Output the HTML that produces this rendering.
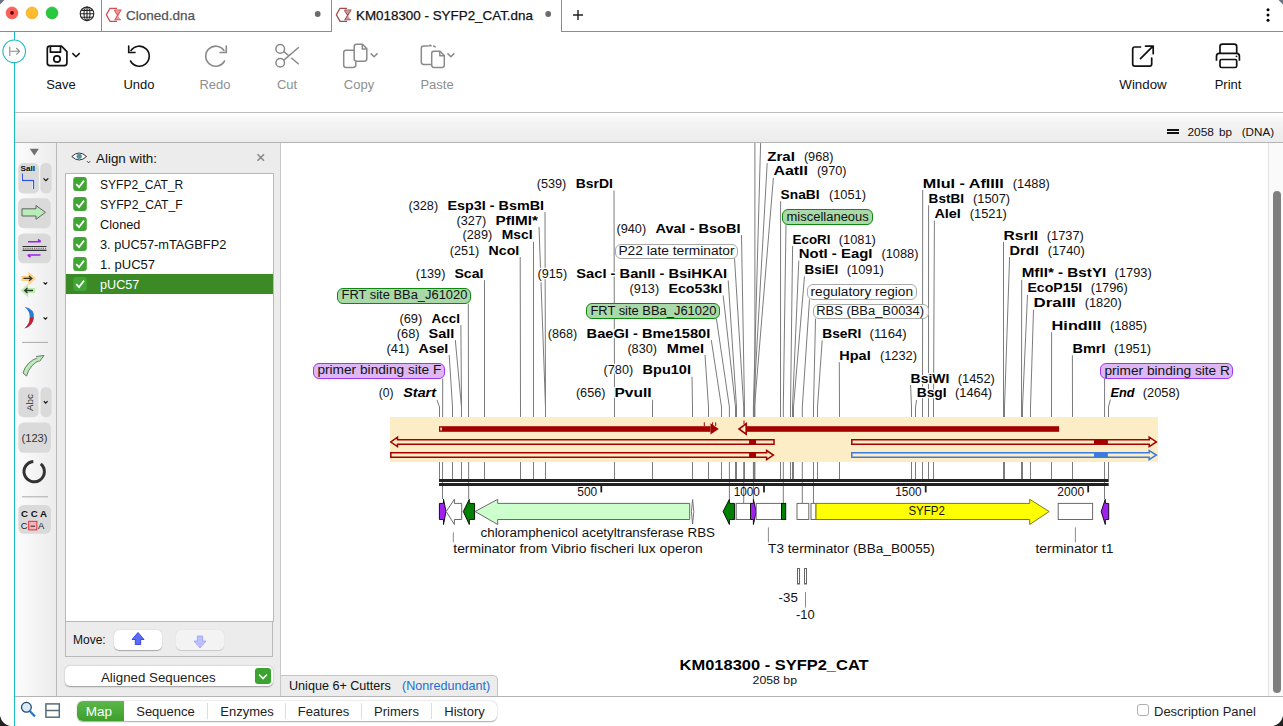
<!DOCTYPE html>
<html><head><meta charset="utf-8">
<style>
html,body{margin:0;padding:0}
body{width:1283px;height:726px;overflow:hidden;position:relative;background:#fff;font-family:"Liberation Sans",sans-serif;color:#000}
.a{position:absolute}
.tb{position:absolute;font-size:13px;text-align:center;white-space:nowrap;color:#111}
.gray{color:#8e8e8e}
.lr{position:absolute;left:100px;font-size:12px;white-space:nowrap;color:#111}
.tab{position:absolute;top:701.8px;height:20px;font-size:13px;line-height:20px;text-align:center;color:#222}
svg text{font-family:"Liberation Sans",sans-serif}
</style></head>
<body>
<!-- tab bar -->
<div class="a" style="left:101px;top:0;width:1px;height:31px;background:#1fb9c6"></div>
<div class="a" style="left:331px;top:0;width:1px;height:31px;background:#1fb9c6"></div>
<div class="a" style="left:561px;top:0;width:1px;height:31px;background:#1fb9c6"></div>
<div class="a" style="left:0;top:31px;width:332px;height:1px;background:#1fb9c6"></div>
<div class="a" style="left:561px;top:31px;width:722px;height:1px;background:#1fb9c6"></div>
<div class="a" style="left:14px;top:31px;width:1px;height:695px;background:#1fb9c6"></div>

<div class="a" style="left:126px;top:8px;font-size:13.5px;color:#555;white-space:nowrap;-webkit-text-stroke:0.25px #555">Cloned.dna</div>
<div class="a" style="left:356px;top:8px;font-size:13.4px;color:#111;white-space:nowrap;-webkit-text-stroke:0.25px #111">KM018300 - SYFP2_CAT.dna</div>

<!-- toolbar -->
<div class="a" style="left:15px;top:112px;width:1268px;height:1px;background:#bdbdbd"></div>
<div class="tb" style="left:41px;top:77px;width:40px">Save</div>
<div class="tb" style="left:119px;top:77px;width:40px">Undo</div>
<div class="tb gray" style="left:195px;top:77px;width:40px">Redo</div>
<div class="tb gray" style="left:267px;top:77px;width:40px">Cut</div>
<div class="tb gray" style="left:339px;top:77px;width:40px">Copy</div>
<div class="tb gray" style="left:417px;top:77px;width:40px">Paste</div>
<div class="tb" style="left:1118px;top:77px;width:50px;font-size:13.3px">Window</div>
<div class="tb" style="left:1208px;top:77px;width:40px">Print</div>

<!-- header bar -->
<div class="a" style="left:15px;top:113px;width:1268px;height:29px;background:linear-gradient(#fff 0,#f4f4f4 9px,#ececec 100%)"></div>
<div class="a" style="left:15px;top:142px;width:1268px;height:1px;background:#b4b4b4"></div>
<div class="a" style="left:1167px;top:129px;width:12px;height:2px;background:#111"></div>
<div class="a" style="left:1167px;top:132px;width:12px;height:2px;background:#111"></div>

<!-- left toolbar -->
<div class="a" style="left:15px;top:143px;width:41px;height:553px;background:linear-gradient(90deg,#fcfcfc,#ececec)"></div>
<div class="a" style="left:56px;top:143px;width:1px;height:553px;background:#b9b9b9"></div>
<!-- panel -->
<div class="a" style="left:57px;top:143px;width:224px;height:553px;background:#ececec"></div>
<div class="a" style="left:280px;top:143px;width:1px;height:553px;background:#c8c8c8"></div>
<div class="a" style="left:96px;top:151px;font-size:13.4px;color:#111;white-space:nowrap">Align with:</div>
<div class="a" style="left:65px;top:173px;width:207px;height:447px;background:#fff;border:1px solid #b9b9b9"></div>
<div class="a" style="left:66px;top:274px;width:207px;height:20px;background:#3b8a26"></div>
<!-- move area -->
<div class="a" style="left:65px;top:621px;width:208px;height:36px;border-top:1px solid #b9b9b9;border-bottom:1px solid #b9b9b9;border-left:1px solid #b9b9b9;border-right:1px solid #b9b9b9;box-sizing:border-box;background:#ececec"></div>
<div class="a" style="left:73px;top:633px;font-size:12px;color:#111">Move:</div>
<div class="a" style="left:114px;top:630px;width:48px;height:20px;background:#fff;border-radius:5px;box-shadow:0 0.5px 1px rgba(0,0,0,0.3)"></div>
<div class="a" style="left:176px;top:630px;width:48px;height:20px;background:#f3f3f3;border-radius:5px;box-shadow:0 0.5px 1px rgba(0,0,0,0.15)"></div>
<!-- aligned seq popup -->
<div class="a" style="left:65px;top:666px;width:208px;height:20px;background:#fff;border-radius:5px;box-shadow:0 0.5px 1.5px rgba(0,0,0,0.35)"></div>
<div class="a" style="left:101px;top:670px;font-size:13.3px;color:#222;white-space:nowrap">Aligned Sequences</div>
<div class="a" style="left:255px;top:668px;width:16px;height:16px;border-radius:3px;background:#3aa42f"></div>

<!-- map area -->
<div class="a" style="left:281px;top:143px;width:987px;height:553px;background:#fff"></div>
<div class="a" style="left:1268px;top:143px;width:15px;height:553px;background:#fafafa;border-left:1px solid #e2e2e2;box-sizing:border-box"></div>
<div class="a" style="left:1273px;top:191px;width:8px;height:502px;border-radius:4px;background:#7f7f7f"></div>

<!-- unique cutters tab -->
<div class="a" style="left:281px;top:675px;width:217px;height:21px;background:#ececec;border:1px solid #c4c4c4;border-bottom:none;border-left:none;border-top-right-radius:5px;box-sizing:border-box"></div>
<div class="a" style="left:289px;top:679px;font-size:12.6px;color:#111;white-space:nowrap">Unique 6+ Cutters</div>
<div class="a" style="left:402px;top:679px;font-size:12.6px;color:#1b6fd1;white-space:nowrap">(Nonredundant)</div>

<!-- bottom bar -->
<div class="a" style="left:15px;top:696px;width:1268px;height:1px;background:#b4b4b4"></div>
<div class="a" style="left:77px;top:701px;width:420px;height:20px;background:#fff;border-radius:6px;box-shadow:0 0.5px 1.5px rgba(0,0,0,0.35)"></div>
<div class="a" style="left:77px;top:701px;width:47px;height:20px;background:linear-gradient(#5bb84a,#3d9e2c);border-radius:6px 0 0 6px"></div>
<div class="tab" style="left:75.5px;width:47px;color:#fff;font-size:13.5px">Map</div>
<div class="tab" style="left:124px;width:83px">Sequence</div>
<div class="a" style="left:207px;top:703px;width:1px;height:16px;background:#ddd"></div>
<div class="tab" style="left:208px;width:78px">Enzymes</div>
<div class="a" style="left:285px;top:703px;width:1px;height:16px;background:#ddd"></div>
<div class="tab" style="left:286px;width:75px">Features</div>
<div class="a" style="left:361px;top:703px;width:1px;height:16px;background:#ddd"></div>
<div class="tab" style="left:362px;width:69px">Primers</div>
<div class="a" style="left:431px;top:703px;width:1px;height:16px;background:#ddd"></div>
<div class="tab" style="left:432px;width:65px">History</div>
<div class="a" style="left:1137px;top:704px;width:12px;height:12px;border:1px solid #b0b0b0;border-radius:3px;box-sizing:border-box;background:#fff"></div>
<div class="a" style="left:1154px;top:704px;font-size:13px;color:#222;white-space:nowrap">Description Panel</div>

<svg class="a" style="left:0;top:0" width="1283" height="726" viewBox="0 0 1283 726">
<!--ICONS-->
<text x="100.0" y="188.9" textLength="83.3" lengthAdjust="spacingAndGlyphs" font-size="12.2" font-weight="normal" font-style="normal" fill="#111" >SYFP2_CAT_R</text>
<text x="100.0" y="208.9" textLength="82.7" lengthAdjust="spacingAndGlyphs" font-size="12.2" font-weight="normal" font-style="normal" fill="#111" >SYFP2_CAT_F</text>
<text x="100.0" y="228.9" textLength="40.4" lengthAdjust="spacingAndGlyphs" font-size="12.2" font-weight="normal" font-style="normal" fill="#111" >Cloned</text>
<text x="100.0" y="248.8" textLength="126.3" lengthAdjust="spacingAndGlyphs" font-size="12.2" font-weight="normal" font-style="normal" fill="#111" >3. pUC57-mTAGBFP2</text>
<text x="100.0" y="268.8" textLength="55.1" lengthAdjust="spacingAndGlyphs" font-size="12.2" font-weight="normal" font-style="normal" fill="#111" >1. pUC57</text>
<text x="100.0" y="288.7" textLength="39.3" lengthAdjust="spacingAndGlyphs" font-size="12.2" font-weight="normal" font-style="normal" fill="#fff" >pUC57</text>
<text x="1187.5" y="135.8" textLength="26.5" lengthAdjust="spacingAndGlyphs" font-size="11.8" font-weight="normal" font-style="normal" fill="#111" >2058</text>
<text x="1218.9" y="135.8" textLength="13.0" lengthAdjust="spacingAndGlyphs" font-size="11.8" font-weight="normal" font-style="normal" fill="#111" >bp</text>
<text x="1241.7" y="135.8" textLength="32.4" lengthAdjust="spacingAndGlyphs" font-size="11.8" font-weight="normal" font-style="normal" fill="#111" >(DNA)</text>
<!-- window corners -->
<path d="M0 0H4.5L0 4.5Z" fill="#6a7480"/>
<path d="M1283 0H1278.5L1283 4.5Z" fill="#6a7480"/>
<path d="M0 726V716Q2 724 10 726Z" fill="#222"/>
<path d="M1283 726V716Q1281 724 1273 726Z" fill="#222"/>
<!-- traffic lights -->
<circle cx="12" cy="12.9" r="6" fill="#ff5f57" stroke="#e0443e" stroke-width="0.5"/>
<circle cx="12" cy="12.9" r="1.8" fill="#4d0000"/>
<circle cx="32" cy="12.9" r="6" fill="#febc2e" stroke="#dea123" stroke-width="0.5"/>
<circle cx="52" cy="12.9" r="6" fill="#28c840" stroke="#1aab29" stroke-width="0.5"/>
<!-- globe -->
<g fill="none" stroke="#222" stroke-width="1.1">
<circle cx="87" cy="13.8" r="6.8"/>
<ellipse cx="87" cy="13.8" rx="3" ry="6.8"/>
<path d="M87 7V20.6 M80.2 13.8H93.8 M81.2 10.4H92.8 M81.2 17.2H92.8"/>
</g>
<!-- tab icons -->
<g fill="none" stroke="#d9474a" stroke-width="1.3">
<path d="M117 8.3H110L106.4 14.8L110 21.3H117"/>
<path d="M114.5 10.2H120.7L115.2 19.7H120.8 M114.5 10.2L117.5 14.8" />
</g>
<path d="M114.8 10.5H120.5L117.6 14.6Z M115.4 19.4H120.5L117.9 15.6Z" fill="#e99a9b"/>
<g fill="none" stroke="#9e4a48" stroke-width="1.3">
<path d="M347 8.3H340L336.4 14.8L340 21.3H347"/>
<path d="M344.5 10.2H350.7L345.2 19.7H350.8 M344.5 10.2L347.5 14.8" />
</g>
<path d="M344.8 10.5H350.5L347.6 14.6Z M345.4 19.4H350.5L347.9 15.6Z" fill="#c99a98"/>
<circle cx="317.7" cy="14" r="2.9" fill="#6b6b6b"/>
<circle cx="548.2" cy="14" r="2.9" fill="#6b6b6b"/>
<path d="M578 10V20 M573 15H583" stroke="#222" stroke-width="1.4"/>
<circle cx="1268" cy="9.7" r="1.5" fill="#000"/>
<circle cx="1268" cy="15" r="1.5" fill="#000"/>
<circle cx="1268" cy="20.3" r="1.5" fill="#000"/>
<!-- sidebar toggle -->
<circle cx="14.2" cy="51.3" r="11.3" fill="#fff" stroke="#1fb9c6" stroke-width="1.1"/>
<path d="M9.8 46.5V56 M10.5 51.3H19.5 M16.2 48L19.5 51.3L16.2 54.6" fill="none" stroke="#8a8a8a" stroke-width="1.1"/>
<!-- save -->
<g fill="none" stroke="#111" stroke-width="1.7" stroke-linejoin="round">
<path d="M49.8 46.2H61.5L66.9 51.6V63Q66.9 65.6 64.3 65.6H49.9Q47.3 65.6 47.3 63V48.8Q47.3 46.2 49.8 46.2Z"/>
<path d="M50.4 46.4V52.2H60.5V46.4"/>
<circle cx="57" cy="59" r="3.2"/>
<path d="M72.4 53.1L76 56.7L79.7 53.1" stroke-width="1.5"/>
</g>
<!-- undo -->
<g fill="none" stroke="#111" stroke-width="1.6" stroke-linecap="round">
<path d="M131 50.5A10 10 0 1 1 130.5 61"/>
<path d="M128.7 46V52.5H135"/>
</g>
<!-- redo -->
<g fill="none" stroke="#8a8a8a" stroke-width="1.6" stroke-linecap="round">
<path d="M224 50.5A10 10 0 1 0 224.5 61"/>
<path d="M226.3 46V52.5H220"/>
</g>
<!-- scissors -->
<g fill="none" stroke="#8a8a8a" stroke-width="1.5">
<circle cx="280.2" cy="48.9" r="4.3"/>
<circle cx="280.2" cy="62.8" r="4.3"/>
<path d="M283.6 60.4L298.8 47.2 M283.8 51.6L288.8 55.8 M291.2 57.8L298.8 64.3"/>
</g>
<!-- copy -->
<g fill="none" stroke="#8a8a8a" stroke-width="1.5" stroke-linejoin="round">
<path d="M354 50.2H346Q343.7 50.2 343.7 52.5V65Q343.7 67.4 346 67.4H353Q355.8 67.4 355.8 65V61.5"/>
<path d="M356.5 44.3H362.5L366.8 48.6V58.8Q366.8 61.2 364.4 61.2H356.5Q354.2 61.2 354.2 58.8V46.6Q354.2 44.3 356.5 44.3Z"/>
<path d="M362.3 44.5V48.9H366.6"/>
<path d="M370.7 53.4L374.1 56.8L377.5 53.4"/>
</g>
<!-- paste -->
<g fill="none" stroke="#8a8a8a" stroke-width="1.5" stroke-linejoin="round">
<path d="M428 46H423.6Q421.3 46 421.3 48.3V62Q421.3 64.4 423.6 64.4H431"/>
<path d="M428.5 46.5Q430 44 431.5 46.3 M433 46Q435 46 435.5 47.5"/>
<path d="M433.5 51.2H440L444.3 55.5V65Q444.3 67.4 442 67.4H434Q431.7 67.4 431.7 65V53.5Q431.7 51.2 433.5 51.2Z"/>
<path d="M439.8 51.4V55.8H444.1"/>
<path d="M447.5 53.4L450.9 56.8L454.3 53.4"/>
</g>
<!-- window -->
<g fill="none" stroke="#111" stroke-width="1.7" stroke-linecap="round" stroke-linejoin="round">
<path d="M1140.5 47H1134.8Q1132.7 47 1132.7 49.1V64Q1132.7 66.1 1134.8 66.1H1149.6Q1151.7 66.1 1151.7 64V58"/>
<path d="M1140.5 58.6L1153 46.1 M1145.5 46.1H1153.2V53.7"/>
</g>
<!-- print -->
<g fill="none" stroke="#111" stroke-width="1.7" stroke-linejoin="round">
<path d="M1220 53.2V46.6Q1220 44.2 1222.4 44.2H1234.3Q1236.7 44.2 1236.7 46.6V53.2"/>
<path d="M1216.5 60.7V56.2Q1216.5 53.4 1219.3 53.4H1236.6Q1239.4 53.4 1239.4 56.2V60.7"/>
<rect x="1220" y="59.5" width="16.7" height="8" rx="1.6"/>
</g>
<circle cx="1236.5" cy="56.3" r="0.9" fill="#111"/>
<!-- left toolbar -->
<path d="M29.8 148.8H38.9L34.35 155.4Z" fill="#707070"/>
<rect x="18.3" y="163" width="20.6" height="30.4" rx="5" fill="#dadada"/>
<rect x="40.3" y="163" width="11.3" height="30.4" rx="5" fill="#dadada"/>
<text x="20.5" y="171" font-size="8" font-weight="bold" fill="#111" textLength="14.5" lengthAdjust="spacingAndGlyphs">SalI</text>
<path d="M22.5 173.6V180.5H33.6V189" fill="none" stroke="#fff" stroke-width="2.6"/>
<path d="M22.5 173.6V180.5H33.6V189" fill="none" stroke="#2d55d8" stroke-width="1.3"/>
<path d="M43.5 178.3L45.9 180.7L48.3 178.3" fill="none" stroke="#111" stroke-width="1.2"/>
<rect x="18.1" y="198.3" width="32.7" height="29.9" rx="5.5" fill="#dadada"/>
<path d="M22 208.8H36V205.5L45.4 212.4L36 219.3V216H22Z" fill="#b8ecb8" stroke="#555" stroke-width="0.9"/>
<rect x="18.1" y="233.4" width="32.7" height="29.9" rx="5.5" fill="#dadada"/>
<path d="M22.5 246.5H46.5 M22.5 250.4H46.5" stroke="#333" stroke-width="1.1"/>
<path d="M23 248.45H46" stroke="#777" stroke-width="1.4" stroke-dasharray="1.2 1"/>
<path d="M28 241.7H40.5 M38 239.5L40.8 241.7 M28 255H40.5 M30.5 257.2L27.7 255" fill="none" stroke="#a020f0" stroke-width="1.6"/>
<!-- orange / green arrows -->
<path d="M22 276.5H29V273L35 278.5L29 284V280.5H22Z" fill="#ffcf80" stroke="#ffcf80" stroke-width="1.2"/>
<path d="M23.5 278.4H31.5 M29 276L31.8 278.4L29 280.8" fill="none" stroke="#333" stroke-width="1.3"/>
<path d="M34.5 288.5H27.5V285L21.5 290.5L27.5 296V292.5H34.5Z" fill="#b8f0a8" stroke="#b8f0a8" stroke-width="1.2"/>
<path d="M33 290.5H25 M27.5 288.1L24.7 290.5L27.5 292.9" fill="none" stroke="#333" stroke-width="1.3"/>
<path d="M43.6 282.3L45.4 284.1L47.2 282.3" fill="none" stroke="#111" stroke-width="1.2"/>
<path d="M24.5 306.7Q35 309 33.8 317.5Q33 326 24.5 328.4Q30 324 29.8 317.5Q30 311 24.5 306.7Z" fill="#2e7bd0"/>
<path d="M33.8 317.5Q33 326 24.5 328.4Q30 324 29.8 317.5Z" fill="#c8202a"/>
<path d="M43.6 317.3L45.4 319.1L47.2 317.3" fill="none" stroke="#111" stroke-width="1.2"/>
<path d="M22 342.4H48" stroke="#aaa" stroke-width="1"/>
<!-- primer arrow -->
<path d="M23 373Q26 362 38 357.5L40.5 360Q30 364 26.5 376Z" fill="#b8ecb8" stroke="#555" stroke-width="0.8"/>
<path d="M36 356.5L44 355.5L39.5 361.5" fill="#b8ecb8" stroke="#555" stroke-width="0.8"/>
<rect x="18.3" y="387.2" width="20.3" height="30.1" rx="5" fill="#dadada"/>
<rect x="40.6" y="387.2" width="11" height="30.1" rx="5" fill="#dadada"/>
<text transform="translate(32.5 411) rotate(-90)" font-size="9.5" fill="#333" textLength="17" lengthAdjust="spacingAndGlyphs">Abc</text>
<path d="M43.8 401.2L45.7 403.1L47.6 401.2" fill="none" stroke="#111" stroke-width="1.2"/>
<rect x="18.3" y="422.5" width="32.7" height="30.3" rx="5.5" fill="#dadada"/>
<text x="21.5" y="441.5" font-size="10" fill="#333" textLength="26" lengthAdjust="spacingAndGlyphs">(123)</text>
<path d="M40.76 463.79A10.2 10.2 0 1 1 33.31 461.44" fill="none" stroke="#333" stroke-width="3"/>
<path d="M22 496.8H48" stroke="#aaa" stroke-width="1"/>
<rect x="18.3" y="504.9" width="32.7" height="28.9" rx="5.5" fill="#dadada"/>
<text x="21" y="517" font-size="9.5" font-weight="bold" fill="#111" textLength="26" lengthAdjust="spacingAndGlyphs">C C A</text>
<rect x="28.7" y="521.3" width="8.2" height="8.6" fill="#f7b3b8" stroke="#e0202a" stroke-width="0.9"/>
<text x="20.8" y="529" font-size="9.5" fill="#222">C</text>
<path d="M30.5 526.2H35" stroke="#222" stroke-width="1"/>
<text x="38" y="529" font-size="9.5" fill="#222">A</text>
<!-- panel icons -->
<path d="M71.8 156.5Q79.2 149.5 86.6 156.5Q79.2 163.5 71.8 156.5Z" fill="#fff" stroke="#333" stroke-width="1"/>
<circle cx="79.2" cy="156.3" r="2.6" fill="#5a8fa0"/>
<path d="M87 161.2L88.6 162.8L90.2 161.2" fill="none" stroke="#333" stroke-width="1"/>
<path d="M257.5 154.3L264 160.8 M264 154.3L257.5 160.8" stroke="#888" stroke-width="1.6"/>
<rect x="73.2" y="177" width="13.6" height="14" rx="3" fill="#40a534"/>
<path d="M76.2 184.2L79 187.2L84 180.6" fill="none" stroke="#fff" stroke-width="1.8"/>
<rect x="73.2" y="197" width="13.6" height="14" rx="3" fill="#40a534"/>
<path d="M76.2 204.2L79 207.2L84 200.6" fill="none" stroke="#fff" stroke-width="1.8"/>
<rect x="73.2" y="217" width="13.6" height="14" rx="3" fill="#40a534"/>
<path d="M76.2 224.2L79 227.2L84 220.6" fill="none" stroke="#fff" stroke-width="1.8"/>
<rect x="73.2" y="237" width="13.6" height="14" rx="3" fill="#40a534"/>
<path d="M76.2 244.2L79 247.2L84 240.6" fill="none" stroke="#fff" stroke-width="1.8"/>
<rect x="73.2" y="257" width="13.6" height="14" rx="3" fill="#40a534"/>
<path d="M76.2 264.2L79 267.2L84 260.6" fill="none" stroke="#fff" stroke-width="1.8"/>
<rect x="73.2" y="277" width="13.6" height="14" rx="3" fill="#40a534"/>
<path d="M76.2 284.2L79 287.2L84 280.6" fill="none" stroke="#fff" stroke-width="1.8"/>
<path d="M138 632.5L132 639.5H135.3V644.5H140.7V639.5H144Z" fill="#5b6cf6" stroke="#2030e0" stroke-width="0.8"/>
<path d="M200 648L194 641H197.3V636H202.7V641H206Z" fill="#b8bffa" stroke="#9aa2f6" stroke-width="0.8"/>
<path d="M259 674.5L263 678.5L267 674.5" fill="none" stroke="#fff" stroke-width="1.6"/>
<circle cx="26.4" cy="707.3" r="4.9" fill="#d8ecfb" stroke="#2a4a6a" stroke-width="1.3"/>
<path d="M29.8 711L35 716.5" stroke="#1a78c8" stroke-width="2.2"/>
<rect x="45.9" y="703.9" width="13.4" height="13.3" fill="#fffdf6" stroke="#566c7c" stroke-width="1.5"/>
<path d="M45.9 710.5H59.3" stroke="#566c7c" stroke-width="1.5"/>

<path d="M614.0 190.4L614.5 407.0L614.5 479.0 M545.0 212.0L545.5 407.0L545.5 479.0 M539.0 227.0L545.5 407.0L545.5 479.0 M533.5 241.9L533.5 407.0L533.5 479.0 M520.2 257.0L520.5 407.0L520.5 479.0 M484.5 280.2L484.5 407.0L484.5 479.0 M460.9 325.1L461.5 407.0L461.5 479.0 M455.3 340.1L461.5 407.0L461.5 479.0 M449.2 355.0L452.5 407.0L452.5 479.0 M437.0 399.8L439.5 407.0L439.5 479.0 M741.5 235.1L744.5 407.0L744.5 479.0 M728.2 280.4L736.5 407.0L736.5 479.0 M723.2 295.5L735.5 407.0L735.5 479.0 M711.3 340.1L721.5 407.0L721.5 479.0 M705.0 355.0L708.5 407.0L708.5 479.0 M692.0 376.8L692.5 407.0L692.5 479.0 M652.6 399.8L652.5 407.0L652.5 479.0 M767.2 163.1L753.5 407.0L753.5 479.0 M773.4 177.9L754.5 407.0L754.5 479.0 M780.6 201.2L780.5 407.0L780.5 479.0 M792.6 246.0L790.5 407.0L790.5 479.0 M798.8 260.7L792.5 407.0L792.5 479.0 M804.5 276.3L793.5 407.0L793.5 479.0 M822.2 340.4L817.5 407.0L817.5 479.0 M839.3 362.2L839.5 407.0L839.5 479.0 M910.6 385.0L911.5 407.0L911.5 479.0 M916.7 399.9L915.5 407.0L915.5 479.0 M922.7 190.0L922.5 407.0L922.5 479.0 M928.6 205.3L928.5 407.0L928.5 479.0 M934.4 220.5L933.5 407.0L933.5 479.0 M1003.5 242.0L1003.5 407.0L1003.5 479.0 M1009.6 257.0L1004.5 407.0L1004.5 479.0 M1021.7 279.9L1021.5 407.0L1021.5 479.0 M1027.5 294.9L1022.5 407.0L1022.5 479.0 M1033.5 309.8L1030.5 407.0L1030.5 479.0 M1051.6 332.2L1051.5 407.0L1051.5 479.0 M1072.4 355.3L1072.5 407.0L1072.5 479.0 M1110.4 399.5L1108.5 407.0L1108.5 479.0 M754.9 143L754.9 407.0L754.9 479.0 M760.6 143L753.4 407.0L753.4 499 M468.3 303.6L468.7 499 M716.4 318.6L729.4 407.0L729.4 499 M442.7 378.5L442.5 499 M1104.6 379L1104.5 499 M734.5 258.2L743.7 407.0L743.7 503 M786 224.5L783.3 407.0L783.3 503 M809.5 299.4L802.3 407.0L802.3 503 M815.5 318.6L813.5 407.0L813.5 503" fill="none" stroke="#7c7c7c" stroke-width="1"/>
<rect x="337.5" y="288.5" width="133.0" height="15.0" rx="5.5" fill="#a9d9a9" stroke="#0f880f" stroke-width="1"/>
<text x="341.5" y="299.3" textLength="125.9" lengthAdjust="spacingAndGlyphs" font-size="12.5" font-weight="normal" font-style="normal" fill="#111" >FRT site BBa_J61020</text>
<rect x="586.5" y="303.5" width="133.0" height="15.0" rx="5.5" fill="#a9d9a9" stroke="#0f880f" stroke-width="1"/>
<text x="590.4" y="314.5" textLength="126.0" lengthAdjust="spacingAndGlyphs" font-size="12.5" font-weight="normal" font-style="normal" fill="#111" >FRT site BBa_J61020</text>
<rect x="313.5" y="363.5" width="131.0" height="15.0" rx="5.5" fill="#ddb8f5" stroke="#a335ee" stroke-width="1"/>
<text x="317.4" y="374.3" textLength="124.0" lengthAdjust="spacingAndGlyphs" font-size="12.5" font-weight="normal" font-style="normal" fill="#111" >primer binding site F</text>
<rect x="1100.5" y="363.5" width="132.0" height="15.0" rx="5.5" fill="#ddb8f5" stroke="#a335ee" stroke-width="1"/>
<text x="1104.4" y="374.6" textLength="125.5" lengthAdjust="spacingAndGlyphs" font-size="12.5" font-weight="normal" font-style="normal" fill="#111" >primer binding site R</text>
<rect x="615.5" y="244.5" width="122.0" height="14.0" rx="5.5" fill="#ffffff" stroke="#a8a8a8" stroke-width="1"/>
<text x="618.4" y="254.6" textLength="116.2" lengthAdjust="spacingAndGlyphs" font-size="12.5" font-weight="normal" font-style="normal" fill="#111" >P22 late terminator</text>
<rect x="782.5" y="209.5" width="90.0" height="15.0" rx="5.5" fill="#a9d9a9" stroke="#0f880f" stroke-width="1"/>
<text x="786.5" y="220.6" textLength="82.3" lengthAdjust="spacingAndGlyphs" font-size="12.5" font-weight="normal" font-style="normal" fill="#111" >miscellaneous</text>
<rect x="807.5" y="284.5" width="109.0" height="15.0" rx="5.5" fill="#ffffff" stroke="#a8a8a8" stroke-width="1"/>
<text x="810.5" y="295.6" textLength="102.5" lengthAdjust="spacingAndGlyphs" font-size="12.5" font-weight="normal" font-style="normal" fill="#111" >regulatory region</text>
<rect x="813.5" y="304.5" width="115.0" height="14.0" rx="5.5" fill="#ffffff" stroke="#a8a8a8" stroke-width="1"/>
<text x="816.2" y="314.8" textLength="107.9" lengthAdjust="spacingAndGlyphs" font-size="12.5" font-weight="normal" font-style="normal" fill="#111" >RBS (BBa_B0034)</text>
<text x="536.7" y="187.9" textLength="29.6" lengthAdjust="spacingAndGlyphs" font-size="12" font-weight="normal" font-style="normal" fill="#111" stroke="#fff" stroke-width="2.5" paint-order="stroke" stroke-linejoin="round">(539)</text>
<text x="575.8" y="187.9" textLength="37.2" lengthAdjust="spacingAndGlyphs" font-size="12.6" font-weight="bold" font-style="normal" fill="#000" stroke="#fff" stroke-width="2.5" paint-order="stroke" stroke-linejoin="round">BsrDI</text>
<text x="408.5" y="209.5" textLength="29.6" lengthAdjust="spacingAndGlyphs" font-size="12" font-weight="normal" font-style="normal" fill="#111" stroke="#fff" stroke-width="2.5" paint-order="stroke" stroke-linejoin="round">(328)</text>
<text x="447.5" y="209.5" textLength="96.5" lengthAdjust="spacingAndGlyphs" font-size="12.6" font-weight="bold" font-style="normal" fill="#000" stroke="#fff" stroke-width="2.5" paint-order="stroke" stroke-linejoin="round">Esp3I - BsmBI</text>
<text x="456.6" y="224.5" textLength="29.6" lengthAdjust="spacingAndGlyphs" font-size="12" font-weight="normal" font-style="normal" fill="#111" stroke="#fff" stroke-width="2.5" paint-order="stroke" stroke-linejoin="round">(327)</text>
<text x="495.5" y="224.5" textLength="42.5" lengthAdjust="spacingAndGlyphs" font-size="12.6" font-weight="bold" font-style="normal" fill="#000" stroke="#fff" stroke-width="2.5" paint-order="stroke" stroke-linejoin="round">PflMI*</text>
<text x="462.6" y="239.4" textLength="29.6" lengthAdjust="spacingAndGlyphs" font-size="12" font-weight="normal" font-style="normal" fill="#111" stroke="#fff" stroke-width="2.5" paint-order="stroke" stroke-linejoin="round">(289)</text>
<text x="501.7" y="239.4" textLength="30.8" lengthAdjust="spacingAndGlyphs" font-size="12.6" font-weight="bold" font-style="normal" fill="#000" stroke="#fff" stroke-width="2.5" paint-order="stroke" stroke-linejoin="round">MscI</text>
<text x="449.7" y="254.5" textLength="29.6" lengthAdjust="spacingAndGlyphs" font-size="12" font-weight="normal" font-style="normal" fill="#111" stroke="#fff" stroke-width="2.5" paint-order="stroke" stroke-linejoin="round">(251)</text>
<text x="488.6" y="254.5" textLength="30.6" lengthAdjust="spacingAndGlyphs" font-size="12.6" font-weight="bold" font-style="normal" fill="#000" stroke="#fff" stroke-width="2.5" paint-order="stroke" stroke-linejoin="round">NcoI</text>
<text x="415.8" y="277.7" textLength="29.6" lengthAdjust="spacingAndGlyphs" font-size="12" font-weight="normal" font-style="normal" fill="#111" stroke="#fff" stroke-width="2.5" paint-order="stroke" stroke-linejoin="round">(139)</text>
<text x="454.4" y="277.7" textLength="29.1" lengthAdjust="spacingAndGlyphs" font-size="12.6" font-weight="bold" font-style="normal" fill="#000" stroke="#fff" stroke-width="2.5" paint-order="stroke" stroke-linejoin="round">ScaI</text>
<text x="399.4" y="322.6" textLength="22.9" lengthAdjust="spacingAndGlyphs" font-size="12" font-weight="normal" font-style="normal" fill="#111" stroke="#fff" stroke-width="2.5" paint-order="stroke" stroke-linejoin="round">(69)</text>
<text x="431.6" y="322.6" textLength="28.3" lengthAdjust="spacingAndGlyphs" font-size="12.6" font-weight="bold" font-style="normal" fill="#000" stroke="#fff" stroke-width="2.5" paint-order="stroke" stroke-linejoin="round">AccI</text>
<text x="396.7" y="337.6" textLength="22.9" lengthAdjust="spacingAndGlyphs" font-size="12" font-weight="normal" font-style="normal" fill="#111" stroke="#fff" stroke-width="2.5" paint-order="stroke" stroke-linejoin="round">(68)</text>
<text x="428.5" y="337.6" textLength="25.8" lengthAdjust="spacingAndGlyphs" font-size="12.6" font-weight="bold" font-style="normal" fill="#000" stroke="#fff" stroke-width="2.5" paint-order="stroke" stroke-linejoin="round">SalI</text>
<text x="386.5" y="352.5" textLength="22.9" lengthAdjust="spacingAndGlyphs" font-size="12" font-weight="normal" font-style="normal" fill="#111" stroke="#fff" stroke-width="2.5" paint-order="stroke" stroke-linejoin="round">(41)</text>
<text x="418.5" y="352.5" textLength="29.7" lengthAdjust="spacingAndGlyphs" font-size="12.6" font-weight="bold" font-style="normal" fill="#000" stroke="#fff" stroke-width="2.5" paint-order="stroke" stroke-linejoin="round">AseI</text>
<text x="378.8" y="397.3" textLength="14.8" lengthAdjust="spacingAndGlyphs" font-size="12" font-weight="normal" font-style="normal" fill="#111" stroke="#fff" stroke-width="2.5" paint-order="stroke" stroke-linejoin="round">(0)</text>
<text x="403.3" y="397.3" textLength="32.7" lengthAdjust="spacingAndGlyphs" font-size="12.6" font-weight="bold" font-style="italic" fill="#000" stroke="#fff" stroke-width="2.5" paint-order="stroke" stroke-linejoin="round">Start</text>
<text x="616.5" y="232.6" textLength="29.6" lengthAdjust="spacingAndGlyphs" font-size="12" font-weight="normal" font-style="normal" fill="#111" stroke="#fff" stroke-width="2.5" paint-order="stroke" stroke-linejoin="round">(940)</text>
<text x="655.5" y="232.6" textLength="85.0" lengthAdjust="spacingAndGlyphs" font-size="12.6" font-weight="bold" font-style="normal" fill="#000" stroke="#fff" stroke-width="2.5" paint-order="stroke" stroke-linejoin="round">AvaI - BsoBI</text>
<text x="537.5" y="277.9" textLength="29.6" lengthAdjust="spacingAndGlyphs" font-size="12" font-weight="normal" font-style="normal" fill="#111" stroke="#fff" stroke-width="2.5" paint-order="stroke" stroke-linejoin="round">(915)</text>
<text x="576.3" y="277.9" textLength="150.9" lengthAdjust="spacingAndGlyphs" font-size="12.6" font-weight="bold" font-style="normal" fill="#000" stroke="#fff" stroke-width="2.5" paint-order="stroke" stroke-linejoin="round">SacI - BanII - BsiHKAI</text>
<text x="629.5" y="293.0" textLength="29.6" lengthAdjust="spacingAndGlyphs" font-size="12" font-weight="normal" font-style="normal" fill="#111" stroke="#fff" stroke-width="2.5" paint-order="stroke" stroke-linejoin="round">(913)</text>
<text x="668.4" y="293.0" textLength="53.8" lengthAdjust="spacingAndGlyphs" font-size="12.6" font-weight="bold" font-style="normal" fill="#000" stroke="#fff" stroke-width="2.5" paint-order="stroke" stroke-linejoin="round">Eco53kI</text>
<text x="547.7" y="337.6" textLength="29.6" lengthAdjust="spacingAndGlyphs" font-size="12" font-weight="normal" font-style="normal" fill="#111" stroke="#fff" stroke-width="2.5" paint-order="stroke" stroke-linejoin="round">(868)</text>
<text x="586.6" y="337.6" textLength="123.7" lengthAdjust="spacingAndGlyphs" font-size="12.6" font-weight="bold" font-style="normal" fill="#000" stroke="#fff" stroke-width="2.5" paint-order="stroke" stroke-linejoin="round">BaeGI - Bme1580I</text>
<text x="627.4" y="352.5" textLength="29.6" lengthAdjust="spacingAndGlyphs" font-size="12" font-weight="normal" font-style="normal" fill="#111" stroke="#fff" stroke-width="2.5" paint-order="stroke" stroke-linejoin="round">(830)</text>
<text x="666.8" y="352.5" textLength="37.2" lengthAdjust="spacingAndGlyphs" font-size="12.6" font-weight="bold" font-style="normal" fill="#000" stroke="#fff" stroke-width="2.5" paint-order="stroke" stroke-linejoin="round">MmeI</text>
<text x="603.6" y="374.3" textLength="29.6" lengthAdjust="spacingAndGlyphs" font-size="12" font-weight="normal" font-style="normal" fill="#111" stroke="#fff" stroke-width="2.5" paint-order="stroke" stroke-linejoin="round">(780)</text>
<text x="642.6" y="374.3" textLength="48.4" lengthAdjust="spacingAndGlyphs" font-size="12.6" font-weight="bold" font-style="normal" fill="#000" stroke="#fff" stroke-width="2.5" paint-order="stroke" stroke-linejoin="round">Bpu10I</text>
<text x="575.9" y="397.3" textLength="29.6" lengthAdjust="spacingAndGlyphs" font-size="12" font-weight="normal" font-style="normal" fill="#111" stroke="#fff" stroke-width="2.5" paint-order="stroke" stroke-linejoin="round">(656)</text>
<text x="614.5" y="397.3" textLength="37.1" lengthAdjust="spacingAndGlyphs" font-size="12.6" font-weight="bold" font-style="normal" fill="#000" stroke="#fff" stroke-width="2.5" paint-order="stroke" stroke-linejoin="round">PvuII</text>
<text x="767.2" y="160.6" textLength="27.7" lengthAdjust="spacingAndGlyphs" font-size="12.6" font-weight="bold" font-style="normal" fill="#000" stroke="#fff" stroke-width="2.5" paint-order="stroke" stroke-linejoin="round">ZraI</text>
<text x="803.9" y="160.6" textLength="29.6" lengthAdjust="spacingAndGlyphs" font-size="12" font-weight="normal" font-style="normal" fill="#111" stroke="#fff" stroke-width="2.5" paint-order="stroke" stroke-linejoin="round">(968)</text>
<text x="773.4" y="175.4" textLength="34.6" lengthAdjust="spacingAndGlyphs" font-size="12.6" font-weight="bold" font-style="normal" fill="#000" stroke="#fff" stroke-width="2.5" paint-order="stroke" stroke-linejoin="round">AatII</text>
<text x="816.9" y="175.4" textLength="29.6" lengthAdjust="spacingAndGlyphs" font-size="12" font-weight="normal" font-style="normal" fill="#111" stroke="#fff" stroke-width="2.5" paint-order="stroke" stroke-linejoin="round">(970)</text>
<text x="780.6" y="198.7" textLength="39.0" lengthAdjust="spacingAndGlyphs" font-size="12.6" font-weight="bold" font-style="normal" fill="#000" stroke="#fff" stroke-width="2.5" paint-order="stroke" stroke-linejoin="round">SnaBI</text>
<text x="828.9" y="198.7" textLength="37.1" lengthAdjust="spacingAndGlyphs" font-size="12" font-weight="normal" font-style="normal" fill="#111" stroke="#fff" stroke-width="2.5" paint-order="stroke" stroke-linejoin="round">(1051)</text>
<text x="792.6" y="243.5" textLength="37.8" lengthAdjust="spacingAndGlyphs" font-size="12.6" font-weight="bold" font-style="normal" fill="#000" stroke="#fff" stroke-width="2.5" paint-order="stroke" stroke-linejoin="round">EcoRI</text>
<text x="838.8" y="243.5" textLength="37.1" lengthAdjust="spacingAndGlyphs" font-size="12" font-weight="normal" font-style="normal" fill="#111" stroke="#fff" stroke-width="2.5" paint-order="stroke" stroke-linejoin="round">(1081)</text>
<text x="798.8" y="258.2" textLength="73.6" lengthAdjust="spacingAndGlyphs" font-size="12.6" font-weight="bold" font-style="normal" fill="#000" stroke="#fff" stroke-width="2.5" paint-order="stroke" stroke-linejoin="round">NotI - EagI</text>
<text x="881.4" y="258.2" textLength="37.1" lengthAdjust="spacingAndGlyphs" font-size="12" font-weight="normal" font-style="normal" fill="#111" stroke="#fff" stroke-width="2.5" paint-order="stroke" stroke-linejoin="round">(1088)</text>
<text x="804.5" y="273.8" textLength="33.7" lengthAdjust="spacingAndGlyphs" font-size="12.6" font-weight="bold" font-style="normal" fill="#000" stroke="#fff" stroke-width="2.5" paint-order="stroke" stroke-linejoin="round">BsiEI</text>
<text x="846.8" y="273.8" textLength="37.1" lengthAdjust="spacingAndGlyphs" font-size="12" font-weight="normal" font-style="normal" fill="#111" stroke="#fff" stroke-width="2.5" paint-order="stroke" stroke-linejoin="round">(1091)</text>
<text x="822.2" y="337.9" textLength="39.1" lengthAdjust="spacingAndGlyphs" font-size="12.6" font-weight="bold" font-style="normal" fill="#000" stroke="#fff" stroke-width="2.5" paint-order="stroke" stroke-linejoin="round">BseRI</text>
<text x="869.6" y="337.9" textLength="37.1" lengthAdjust="spacingAndGlyphs" font-size="12" font-weight="normal" font-style="normal" fill="#111" stroke="#fff" stroke-width="2.5" paint-order="stroke" stroke-linejoin="round">(1164)</text>
<text x="839.3" y="359.7" textLength="31.4" lengthAdjust="spacingAndGlyphs" font-size="12.6" font-weight="bold" font-style="normal" fill="#000" stroke="#fff" stroke-width="2.5" paint-order="stroke" stroke-linejoin="round">HpaI</text>
<text x="879.9" y="359.7" textLength="37.1" lengthAdjust="spacingAndGlyphs" font-size="12" font-weight="normal" font-style="normal" fill="#111" stroke="#fff" stroke-width="2.5" paint-order="stroke" stroke-linejoin="round">(1232)</text>
<text x="910.6" y="382.5" textLength="38.8" lengthAdjust="spacingAndGlyphs" font-size="12.6" font-weight="bold" font-style="normal" fill="#000" stroke="#fff" stroke-width="2.5" paint-order="stroke" stroke-linejoin="round">BsiWI</text>
<text x="957.8" y="382.5" textLength="37.1" lengthAdjust="spacingAndGlyphs" font-size="12" font-weight="normal" font-style="normal" fill="#111" stroke="#fff" stroke-width="2.5" paint-order="stroke" stroke-linejoin="round">(1452)</text>
<text x="916.7" y="397.4" textLength="29.9" lengthAdjust="spacingAndGlyphs" font-size="12.6" font-weight="bold" font-style="normal" fill="#000" stroke="#fff" stroke-width="2.5" paint-order="stroke" stroke-linejoin="round">BsgI</text>
<text x="955.0" y="397.4" textLength="37.1" lengthAdjust="spacingAndGlyphs" font-size="12" font-weight="normal" font-style="normal" fill="#111" stroke="#fff" stroke-width="2.5" paint-order="stroke" stroke-linejoin="round">(1464)</text>
<text x="922.7" y="187.5" textLength="81.1" lengthAdjust="spacingAndGlyphs" font-size="12.6" font-weight="bold" font-style="normal" fill="#000" stroke="#fff" stroke-width="2.5" paint-order="stroke" stroke-linejoin="round">MluI - AflIII</text>
<text x="1012.8" y="187.5" textLength="37.1" lengthAdjust="spacingAndGlyphs" font-size="12" font-weight="normal" font-style="normal" fill="#111" stroke="#fff" stroke-width="2.5" paint-order="stroke" stroke-linejoin="round">(1488)</text>
<text x="928.6" y="202.8" textLength="35.5" lengthAdjust="spacingAndGlyphs" font-size="12.6" font-weight="bold" font-style="normal" fill="#000" stroke="#fff" stroke-width="2.5" paint-order="stroke" stroke-linejoin="round">BstBI</text>
<text x="973.0" y="202.8" textLength="37.1" lengthAdjust="spacingAndGlyphs" font-size="12" font-weight="normal" font-style="normal" fill="#111" stroke="#fff" stroke-width="2.5" paint-order="stroke" stroke-linejoin="round">(1507)</text>
<text x="934.4" y="218.0" textLength="26.5" lengthAdjust="spacingAndGlyphs" font-size="12.6" font-weight="bold" font-style="normal" fill="#000" stroke="#fff" stroke-width="2.5" paint-order="stroke" stroke-linejoin="round">AleI</text>
<text x="969.8" y="218.0" textLength="37.1" lengthAdjust="spacingAndGlyphs" font-size="12" font-weight="normal" font-style="normal" fill="#111" stroke="#fff" stroke-width="2.5" paint-order="stroke" stroke-linejoin="round">(1521)</text>
<text x="1003.5" y="239.5" textLength="34.7" lengthAdjust="spacingAndGlyphs" font-size="12.6" font-weight="bold" font-style="normal" fill="#000" stroke="#fff" stroke-width="2.5" paint-order="stroke" stroke-linejoin="round">RsrII</text>
<text x="1046.8" y="239.5" textLength="37.1" lengthAdjust="spacingAndGlyphs" font-size="12" font-weight="normal" font-style="normal" fill="#111" stroke="#fff" stroke-width="2.5" paint-order="stroke" stroke-linejoin="round">(1737)</text>
<text x="1009.6" y="254.5" textLength="29.1" lengthAdjust="spacingAndGlyphs" font-size="12.6" font-weight="bold" font-style="normal" fill="#000" stroke="#fff" stroke-width="2.5" paint-order="stroke" stroke-linejoin="round">DrdI</text>
<text x="1047.7" y="254.5" textLength="37.1" lengthAdjust="spacingAndGlyphs" font-size="12" font-weight="normal" font-style="normal" fill="#111" stroke="#fff" stroke-width="2.5" paint-order="stroke" stroke-linejoin="round">(1740)</text>
<text x="1021.7" y="277.4" textLength="84.6" lengthAdjust="spacingAndGlyphs" font-size="12.6" font-weight="bold" font-style="normal" fill="#000" stroke="#fff" stroke-width="2.5" paint-order="stroke" stroke-linejoin="round">MflI* - BstYI</text>
<text x="1114.6" y="277.4" textLength="37.1" lengthAdjust="spacingAndGlyphs" font-size="12" font-weight="normal" font-style="normal" fill="#111" stroke="#fff" stroke-width="2.5" paint-order="stroke" stroke-linejoin="round">(1793)</text>
<text x="1027.5" y="292.4" textLength="54.7" lengthAdjust="spacingAndGlyphs" font-size="12.6" font-weight="bold" font-style="normal" fill="#000" stroke="#fff" stroke-width="2.5" paint-order="stroke" stroke-linejoin="round">EcoP15I</text>
<text x="1090.7" y="292.4" textLength="37.1" lengthAdjust="spacingAndGlyphs" font-size="12" font-weight="normal" font-style="normal" fill="#111" stroke="#fff" stroke-width="2.5" paint-order="stroke" stroke-linejoin="round">(1796)</text>
<text x="1033.5" y="307.3" textLength="42.3" lengthAdjust="spacingAndGlyphs" font-size="12.6" font-weight="bold" font-style="normal" fill="#000" stroke="#fff" stroke-width="2.5" paint-order="stroke" stroke-linejoin="round">DraIII</text>
<text x="1084.7" y="307.3" textLength="37.1" lengthAdjust="spacingAndGlyphs" font-size="12" font-weight="normal" font-style="normal" fill="#111" stroke="#fff" stroke-width="2.5" paint-order="stroke" stroke-linejoin="round">(1820)</text>
<text x="1051.6" y="329.7" textLength="49.8" lengthAdjust="spacingAndGlyphs" font-size="12.6" font-weight="bold" font-style="normal" fill="#000" stroke="#fff" stroke-width="2.5" paint-order="stroke" stroke-linejoin="round">HindIII</text>
<text x="1109.9" y="329.7" textLength="37.1" lengthAdjust="spacingAndGlyphs" font-size="12" font-weight="normal" font-style="normal" fill="#111" stroke="#fff" stroke-width="2.5" paint-order="stroke" stroke-linejoin="round">(1885)</text>
<text x="1072.4" y="352.8" textLength="33.1" lengthAdjust="spacingAndGlyphs" font-size="12.6" font-weight="bold" font-style="normal" fill="#000" stroke="#fff" stroke-width="2.5" paint-order="stroke" stroke-linejoin="round">BmrI</text>
<text x="1114.0" y="352.8" textLength="37.1" lengthAdjust="spacingAndGlyphs" font-size="12" font-weight="normal" font-style="normal" fill="#111" stroke="#fff" stroke-width="2.5" paint-order="stroke" stroke-linejoin="round">(1951)</text>
<text x="1110.4" y="397.0" textLength="24.1" lengthAdjust="spacingAndGlyphs" font-size="12.6" font-weight="bold" font-style="italic" fill="#000" stroke="#fff" stroke-width="2.5" paint-order="stroke" stroke-linejoin="round">End</text>
<text x="1142.8" y="397.0" textLength="37.1" lengthAdjust="spacingAndGlyphs" font-size="12" font-weight="normal" font-style="normal" fill="#111" stroke="#fff" stroke-width="2.5" paint-order="stroke" stroke-linejoin="round">(2058)</text>
<rect x="390" y="417" width="768" height="45" fill="#fdedc7"/>
<rect x="439" y="426.2" width="271.5" height="5.6" fill="#a30000"/>
<path d="M710.5 423.3L718.8 429L710.5 434.6Z" fill="#a30000"/>
<rect x="440.3" y="427.6" width="1.6" height="2.8" fill="#fdedc7"/>
<path d="M704.3 422.3V426 M712.6 422.3V426 M715.7 422.3V426 M744 420.5V424" stroke="#a30000" stroke-width="1"/>
<rect x="746.2" y="426.2" width="312.9" height="5.6" fill="#a30000"/>
<path d="M746.2 423.6L739 429L746.2 434.2Z" fill="#fdedc7" stroke="#a30000" stroke-width="1.6"/>
<path d="M774 439.7H397.5V437.2L390.8 442L397.5 446.6V444.3H774Z" fill="none" stroke="#a30000" stroke-width="1.5"/>
<rect x="749.1" y="439.3" width="6.9" height="5.4" fill="#a30000"/>
<path d="M851.8 439.7H1149.2V437.2L1156.4 442L1149.2 446.6V444.3H851.8Z" fill="none" stroke="#a30000" stroke-width="1.5"/>
<rect x="1094" y="439.3" width="13.9" height="5.4" fill="#a30000"/>
<path d="M390.8 452.8H766.6V450.5L773.4 455L766.6 459.6V457.3H390.8Z" fill="none" stroke="#a30000" stroke-width="1.5"/>
<rect x="749.1" y="452.4" width="6.9" height="5.4" fill="#a30000"/>
<path d="M851.8 452.8H1149.2V450.5L1156.4 455L1149.2 459.6V457.3H851.8Z" fill="none" stroke="#3b7bdc" stroke-width="1.5"/>
<rect x="1094" y="452.4" width="13.9" height="5.4" fill="#3b7bdc"/>
<rect x="439" y="479" width="669.7" height="3" fill="#222"/>
<rect x="439" y="483" width="669.7" height="3" fill="#222"/>
<rect x="600.4" y="485.6" width="1.8" height="6.8" fill="#222"/>
<text x="577.3" y="495.6" textLength="20.0" lengthAdjust="spacingAndGlyphs" font-size="12" font-weight="normal" font-style="normal" fill="#111" >500</text>
<rect x="763.1" y="485.6" width="1.8" height="6.8" fill="#222"/>
<text x="733.7" y="495.6" textLength="26.2" lengthAdjust="spacingAndGlyphs" font-size="12" font-weight="normal" font-style="normal" fill="#111" >1000</text>
<rect x="924.8" y="485.6" width="1.8" height="6.8" fill="#222"/>
<text x="895.3" y="495.6" textLength="26.2" lengthAdjust="spacingAndGlyphs" font-size="12" font-weight="normal" font-style="normal" fill="#111" >1500</text>
<rect x="1087.3" y="485.6" width="1.8" height="6.8" fill="#222"/>
<text x="1057.3" y="495.6" textLength="26.8" lengthAdjust="spacingAndGlyphs" font-size="12" font-weight="normal" font-style="normal" fill="#111" >2000</text>
<path d="M446.0 511.5L443.5 499.3V503.4H439.4V519.5H443.5V524.5Z" fill="#a020f0" stroke="#111" stroke-width="1"/>
<path d="M446.2 511.5L454.4 499.3V503.4H461.7V519.5H454.4V524.5Z" fill="#fff" stroke="#6a6a6a" stroke-width="1"/>
<path d="M463.3 511.5L469.3 499.3V503.4H474.6V519.5H469.3V524.5Z" fill="#008000" stroke="#111" stroke-width="1"/>
<path d="M475.1 511.5L497.7 499.3V503.4H689.7V519.5H497.7V524.5Z" fill="#ccffcc" stroke="#6a6a6a" stroke-width="1"/>
<path d="M692.6 499.5Q690.2 511.5 692.6 524Q695 511.5 692.6 499.5Z" fill="#fff" stroke="#6a6a6a" stroke-width="0.9"/>
<path d="M723.1 511.5L729.4 499.3V503.4H734.6V519.5H729.4V524.5Z" fill="#008000" stroke="#111" stroke-width="1"/>
<rect x="736.2" y="503.4" width="14.3" height="16.1" fill="#fff" stroke="#6a6a6a" stroke-width="1"/>
<path d="M756.2 511.5L753.4 499.3V503.4H750.5V519.5H753.4V524.5Z" fill="#a020f0" stroke="#111" stroke-width="1"/>
<rect x="756.2" y="503.4" width="25.3" height="16.1" fill="#fff" stroke="#6a6a6a" stroke-width="1"/>
<rect x="781.5" y="503.4" width="4.2" height="16.1" fill="#008000" stroke="#111" stroke-width="1"/>
<rect x="797.0" y="503.4" width="11.8" height="16.1" fill="#fff" stroke="#6a6a6a" stroke-width="1"/>
<rect x="811.0" y="503.4" width="5.0" height="16.1" fill="#fff" stroke="#6a6a6a" stroke-width="1"/>
<path d="M1049.2 511.5L1029.7 499.3V503.4H816.0V519.5H1029.7V524.5Z" fill="#ffff00" stroke="#7a7a20" stroke-width="1"/>
<rect x="1058.2" y="503.4" width="34.4" height="16.1" fill="#fff" stroke="#6a6a6a" stroke-width="1"/>
<path d="M1101.2 511.5L1105.3 499.3V503.4H1108.7V519.5H1105.3V524.5Z" fill="#a020f0" stroke="#111" stroke-width="1"/>
<text x="908.4" y="515.0" textLength="36.6" lengthAdjust="spacingAndGlyphs" font-size="12.5" font-weight="normal" font-style="normal" fill="#111" >SYFP2</text>
<text x="480.5" y="537.3" textLength="234.5" lengthAdjust="spacingAndGlyphs" font-size="12.5" font-weight="normal" font-style="normal" fill="#111" >chloramphenicol acetyltransferase RBS</text>
<text x="453.3" y="552.9" textLength="249.5" lengthAdjust="spacingAndGlyphs" font-size="12.5" font-weight="normal" font-style="normal" fill="#111" >terminator from Vibrio fischeri lux operon</text>
<text x="768.1" y="553.2" textLength="166.8" lengthAdjust="spacingAndGlyphs" font-size="12.5" font-weight="normal" font-style="normal" fill="#111" >T3 terminator (BBa_B0055)</text>
<text x="1035.5" y="553.2" textLength="77.9" lengthAdjust="spacingAndGlyphs" font-size="12.5" font-weight="normal" font-style="normal" fill="#111" >terminator t1</text>
<path d="M453.3 532.3V542.3 M768.4 527.4V542.3 M1075.4 527.4V542.3 M805.5 592V607.6" stroke="#8c8c8c" stroke-width="1"/>
<rect x="797.5" y="568.5" width="2" height="15.5" fill="#fff" stroke="#666" stroke-width="1"/>
<rect x="804.5" y="568.5" width="2" height="15.5" fill="#fff" stroke="#666" stroke-width="1"/>
<text x="778.6" y="602.0" textLength="19.2" lengthAdjust="spacingAndGlyphs" font-size="12.5" font-weight="normal" font-style="normal" fill="#111" >-35</text>
<text x="796.0" y="618.8" textLength="18.6" lengthAdjust="spacingAndGlyphs" font-size="12.5" font-weight="normal" font-style="normal" fill="#111" >-10</text>
<text x="679.6" y="669.9" textLength="189.0" lengthAdjust="spacingAndGlyphs" font-size="14.5" font-weight="bold" font-style="normal" fill="#000" >KM018300 - SYFP2_CAT</text>
<text x="752.6" y="683.9" textLength="44.4" lengthAdjust="spacingAndGlyphs" font-size="11.5" font-weight="normal" font-style="normal" fill="#111" >2058 bp</text>
</svg>
</body></html>
